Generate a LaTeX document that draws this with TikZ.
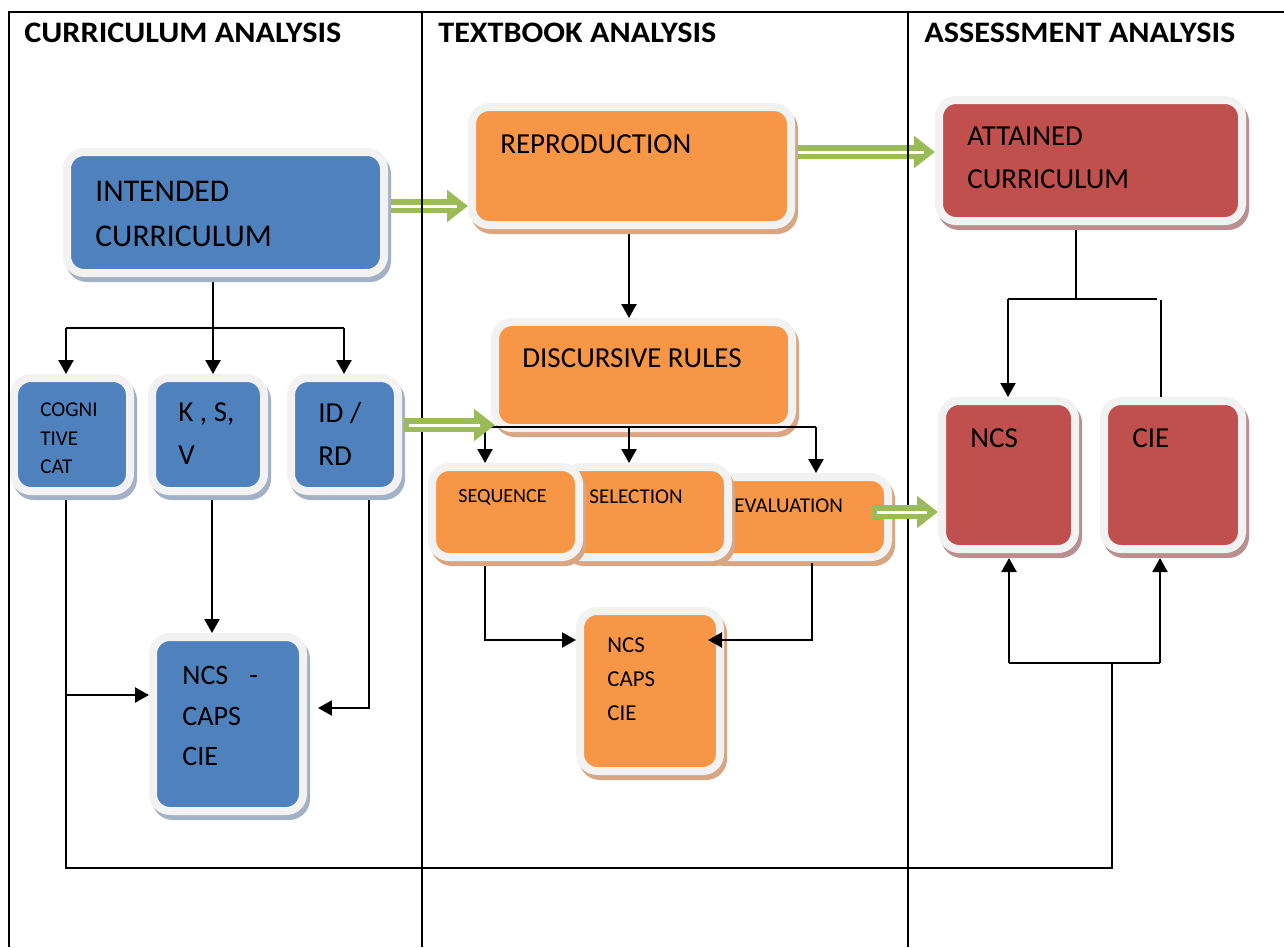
\documentclass[tikz,border=0pt]{standalone}
\usepackage{fontspec}
\usepackage{graphicx}
\setmainfont{Carlito}
\usetikzlibrary{arrows.meta,fit}
\definecolor{bluF}{HTML}{4F81BD}
\definecolor{bluS}{HTML}{A2B1C6}
\definecolor{orgF}{HTML}{F79646}
\definecolor{orgS}{HTML}{D8A682}
\definecolor{redF}{HTML}{C0504D}
\definecolor{redS}{HTML}{B98F8F}
\definecolor{bgray}{HTML}{F2F2F2}
\definecolor{grn}{HTML}{9BBB59}
\pgfdeclarelayer{bg}
\pgfdeclarelayer{fg}
\pgfsetlayers{bg,main,fg}
\tikzset{
  bx/.style 2 args={rounded corners=0.34cm, inner sep=0pt, outer sep=0pt,
    line width=0.16cm, draw=bgray, fill=#1,
    preaction={draw=#2, fill=#2, line width=0.16cm,
      transform canvas={xshift=0.06cm, yshift=-0.1cm}}},
  tx/.style={anchor=west, inner sep=0pt, align=left},
  ln/.style={line width=0.045cm, draw=black},
  arr/.style={ln, -{Triangle[length=0.28cm,width=0.3cm]}, shorten >=0.08cm},
  garr/.style={draw=grn, line width=0.28cm,
    -{Triangle[length=0.42cm,width=0.62cm]}, shorten >=0.08cm,
    postaction={draw=white, line width=0.06cm, -, shorten >=0.30cm, shorten <=0.1cm}},
  tbl/.style={line width=0.045cm, draw=black}
}
\begin{document}
\begin{tikzpicture}[x=0.02cm,y=-0.02cm]
\useasboundingbox (0,0) rectangle (1284,947);

% ---------- boxes ----------
\node[bx={bluF}{bluS}, fit={(67,152) (384,273)}] (intended) {};
\node[bx={orgF}{orgS}, fit={(472,107) (791,225)}] (repro) {};
\node[bx={redF}{redS}, fit={(939,100) (1242,221)}] (att) {};
\node[bx={bluF}{bluS}, fit={(14,378) (130,491)}] (cog) {};
\node[bx={bluF}{bluS}, fit={(152,378) (264,491)}] (ksv) {};
\node[bx={bluF}{bluS}, fit={(291,378) (398,491)}] (idrd) {};
\node[bx={bluF}{bluS}, fit={(153,637) (303,811)}] (ncsb) {};
\node[bx={orgF}{orgS}, fit={(495,322) (792,428)}] (disc) {};
\node[bx={orgF}{orgS}, fit={(704,477) (888,557)}] (eval) {};
\node[bx={orgF}{orgS}, fit={(564,467) (728,557)}] (sel) {};
\node[bx={orgF}{orgS}, fit={(432,467) (579,557)}] (seq) {};
\node[bx={orgF}{orgS}, fit={(580,611) (720,771)}] (ncso) {};
\node[bx={redF}{redS}, fit={(942,401) (1075,549)}] (ncsr) {};
\node[bx={redF}{redS}, fit={(1104,401) (1242,549)}] (cier) {};

% ---------- texts ----------
\node[tx, font=\bfseries] (h1) at (24,33) {\resizebox{6.34cm}{0.39cm}{CURRICULUM ANALYSIS}};
\node[tx, font=\bfseries] (h2) at (438,33) {\resizebox{5.56cm}{0.39cm}{TEXTBOOK ANALYSIS}};
\node[tx, font=\bfseries] (h3) at (924,33) {\resizebox{6.22cm}{0.39cm}{ASSESSMENT ANALYSIS}};

\node[tx, font=\fontsize{18}{25.6}\selectfont] (t1) at (95,213.5) {INTENDED\\CURRICULUM};
\node[tx, font=\fontsize{16.5}{20}\selectfont] (t2) at (500,144) {REPRODUCTION};
\node[tx, font=\fontsize{16.5}{24.5}\selectfont] (t3) at (967,157.5) {ATTAINED\\CURRICULUM};
\node[tx, font=\fontsize{12}{16.2}\selectfont] (t4) at (40,438.5) {COGNI\\TIVE\\CAT};
\node[tx, font=\fontsize{16.5}{24.5}\selectfont] (t5) at (178,433.5) {K , S,\\V};
\node[tx, font=\fontsize{16.5}{24.5}\selectfont] (t6) at (318,433.5) {ID /\\RD};
\node[tx, font=\fontsize{16}{23.3}\selectfont] (t7) at (182,716) {NCS\hspace{0.42cm}-\\CAPS\\CIE};
\node[tx, font=\fontsize{16.5}{20}\selectfont] (t8) at (522,358) {DISCURSIVE RULES};
\node[tx, font=\fontsize{11.4}{14}\selectfont] (t9) at (458,497) {SEQUENCE};
\node[tx, font=\fontsize{12}{14}\selectfont] (t10) at (589,497) {SELECTION};
\node[tx, font=\fontsize{12}{14}\selectfont] (t11) at (734,506) {EVALUATION};
\node[tx, font=\fontsize{13}{19.3}\selectfont] (t12) at (607,679) {NCS\\CAPS\\CIE};
\node[tx, font=\fontsize{16.5}{20}\selectfont] (t13) at (970,438) {NCS};
\node[tx, font=\fontsize{16.5}{20}\selectfont] (t14) at (1132,438) {CIE};

% ---------- coordinates ----------
\coordinate (jA) at (213,328);
\coordinate (jL) at (66,328);
\coordinate (jR) at (344,328);
\coordinate (c1) at (66,868);
\coordinate (c2) at (1112,868);
\coordinate (c3) at (1112,663);
\coordinate (c4) at (66,695);
\coordinate (d1) at (369,708);
\coordinate (e1) at (485,427);
\coordinate (e2) at (816,427);
\coordinate (e3) at (629,427);
\coordinate (f1) at (485,640);
\coordinate (f2) at (812,640);
\coordinate (f2t) at (708,640);
\coordinate (g1) at (1076,299);
\coordinate (g2) at (1008,299);
\coordinate (g3) at (1157,299);
\coordinate (g4) at (1161,300);
\coordinate (h1c) at (1009,663);
\coordinate (h2c) at (1160,663);
\coordinate (gs3) at (404,425);
\coordinate (gt3) at (495,425);
\coordinate (gs4) at (872,512);

\begin{pgfonlayer}{bg}
  % curriculum column
  \draw[ln] (intended.south -| jA) -- (jA);
  \draw[ln] (jL) -- (jR);
  \draw[arr] (jL) -- (jL |- cog.north);
  \draw[arr] (jA) -- (jA |- ksv.north);
  \draw[arr] (jR) -- (jR |- idrd.north);
  \draw[arr] (ksv.south -| 212,0) -- (ncsb.north -| 212,0);
  \draw[ln] (cog.south -| c1) -- (c1) -- (c2) -- (c3);
  \draw[arr] (c4) -- (ncsb.west |- c4);
  \draw[arr, shorten >=0.3cm] (idrd.south -| d1) -- (d1) -- (ncsb.east |- d1);
  % textbook column
  \draw[arr] (repro.south -| 629,0) -- (disc.north -| 629,0);
  \draw[arr] (seq.south -| f1) -- (f1) -- (ncso.west |- f1);
  % assessment column
  \draw[ln] (att.south -| g1) -- (g1);
  \draw[ln] (g2) -- (g3);
  \draw[arr] (g2) -- (ncsr.north -| g2);
  \draw[ln] (cier.north -| g4) -- (g4);
  \draw[ln] (h1c) -- (h2c);
  \draw[arr, shorten >=0.18cm] (h1c) -- (ncsr.south -| h1c);
  \draw[arr, shorten >=0.18cm] (h2c) -- (cier.south -| h2c);
  % green arrows
  \draw[garr] (intended.east |- 0,206) -- (repro.west |- 0,206);
  \draw[garr] (repro.east |- 0,152) -- (att.west |- 0,152);
  % table
  \draw[tbl] (9,947) -- (9,12) -- (1284,12);
  \draw[tbl] (422,12) -- (422,947);
  \draw[tbl] (908,12) -- (908,947);
\end{pgfonlayer}

\begin{pgfonlayer}{fg}
  \draw[ln] (e1) -- (e2);
  \draw[arr] (e1) -- (e1 |- seq.north);
  \draw[arr] (e3) -- (e3 |- sel.north);
  \draw[arr] (e2) -- (e2 |- eval.north);
  \draw[arr, shorten >=0pt] ([yshift=-0.12cm]eval.south -| f2) -- (f2) -- (f2t);
  \draw[garr, shorten >=0pt] (gs3) -- (gt3);
  \draw[garr] (gs4) -- (ncsr.west |- gs4);
\end{pgfonlayer}
\end{tikzpicture}
\end{document}
